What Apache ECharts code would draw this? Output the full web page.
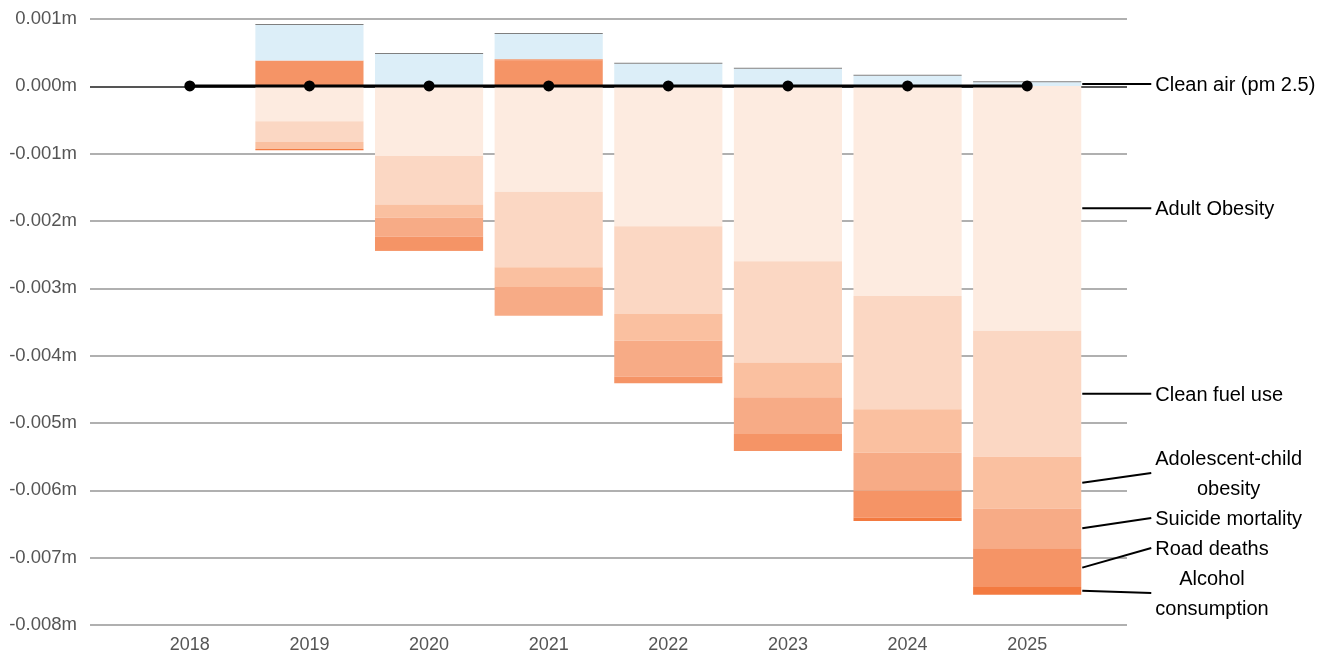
<!DOCTYPE html>
<html>
<head>
<meta charset="utf-8">
<script src="https://cdn.jsdelivr.net/npm/echarts@6/dist/echarts.min.js"></script>
<style>
  html, body { margin: 0; padding: 0; background: #fff; }
  #chart { width: 1318px; height: 654px; }
</style>
</head>
<body>
<div id="chart"></div>
<script>
// Years on the category axis
const years = ['2018', '2019', '2020', '2021', '2022', '2023', '2024', '2025'];

// Value axis (millions)
const yMin = -0.008;
const yMax = 0.001;
const yStep = 0.001;

// Contribution of each indicator, in millions ('-' = no bar)
const adultObesity = ['-', -0.000527, -0.001047, -0.001582, -0.0021, -0.00262, -0.00314, -0.00366];
const cleanFuelUse = ['-', -0.000312, -0.000728, -0.001128, -0.00131, -0.001515, -0.001693, -0.001886];
const adolescentChildObesity = ['-', -0.000104, -0.000193, -0.000298, -0.0004, -0.00052, -0.000653, -0.000772];
const suicideMortality = ['-', '-', -0.000282, -0.00043, -0.000535, -0.00055, -0.000565, -0.000594];
const roadDeaths = ['-', 0.00038, -0.000193, 0.00038, -0.0001, -0.000252, -0.0004, -0.00058];
const alcoholConsumption = ['-', -0.00002, -0.00002, 0.00002, '-', '-', -0.000055, -0.000114];
const cleanAir = ['-', 0.00053, 0.000478, 0.000375, 0.00033, 0.000255, 0.00015, 0.000055];
const otherIndicators = ['-', 0.000015, 0.000015, 0.000015, 0.000015, 0.000015, 0.000015, 0.000015];

// Net change line
const netChange = [0, 0, 0, 0, 0, 0, 0, 0];

// Series names and the text shown beside the last bar
const seriesNames = ['Adult Obesity', 'Clean fuel use', 'Adolescent-child obesity', 'Suicide mortality',
  'Road deaths', 'Alcohol consumption', 'Clean air (pm 2.5)', 'Other'];
const sideLabels = ['Adult Obesity', 'Clean fuel use', 'Adolescent-child\nobesity', 'Suicide mortality',
  'Road deaths', 'Alcohol\nconsumption', 'Clean air (pm 2.5)', null];
const seriesData = [adultObesity, cleanFuelUse, adolescentChildObesity, suicideMortality,
  roadDeaths, alcoholConsumption, cleanAir, otherIndicators];
const seriesColors = ['#fdebe0', '#fbd7c3', '#fac0a0', '#f7ab86', '#f59466', '#f37a40', '#dceef8', '#7f7f7f'];

const FONT = '"Liberation Sans", Arial, sans-serif';
const LABEL_SIZE = 20;
const LINE_H = 30;

const tickCount = Math.round((yMax - yMin) / yStep) + 1;
const zeroIndex = Math.round((0 - yMin) / yStep);
const splitColors = [];
for (let i = 0; i < tickCount; i++) splitColors.push(i === zeroIndex ? '#555555' : '#b0b0b0');

const barSeries = seriesNames.map((name, i) => ({
  name: name,
  type: 'bar',
  stack: 'total',
  xAxisIndex: 0,
  yAxisIndex: 0,
  barWidth: '90.4%',
  itemStyle: { color: seriesColors[i] },
  emphasis: { disabled: true },
  data: seriesData[i]
}));

const option = {
  animation: false,
  backgroundColor: '#ffffff',
  grid: [
    { left: 130, right: 231, top: 19, bottom: 29 },
    { left: 90, right: 191, top: 19, bottom: 29 }
  ],
  xAxis: [
    {
      type: 'category', gridIndex: 0, data: years,
      axisLine: { show: false }, axisTick: { show: false },
      axisLabel: { color: '#555', fontSize: 18, fontFamily: FONT, margin: 15 },
      splitLine: { show: false }
    },
    {
      type: 'category', gridIndex: 1, data: years, show: false
    }
  ],
  yAxis: [
    {
      type: 'value', gridIndex: 0, min: yMin, max: yMax, interval: yStep,
      axisLabel: { show: false }, axisLine: { show: false }, axisTick: { show: false },
      splitLine: { show: false }
    },
    {
      type: 'value', gridIndex: 1, min: yMin, max: yMax, interval: yStep,
      axisLine: { show: false }, axisTick: { show: false },
      axisLabel: {
        color: '#555', fontSize: 18.5, fontFamily: FONT, margin: 13,
        formatter: v => (Math.abs(v) < 1e-12 ? 0 : v).toFixed(3) + 'm'
      },
      splitLine: { show: true, lineStyle: { color: splitColors, width: 2 } }
    }
  ],
  series: barSeries.concat([
    {
      name: 'Net change',
      type: 'line',
      xAxisIndex: 0,
      yAxisIndex: 0,
      z: 5,
      symbol: 'circle',
      symbolSize: 11,
      lineStyle: { color: '#000', width: 3 },
      itemStyle: { color: '#000' },
      emphasis: { disabled: true },
      data: netChange
    }
  ])
};

const chart = echarts.init(document.getElementById('chart'), null, { renderer: 'canvas' });
chart.setOption(option);

// Side labels with leader lines, anchored to the segments of the last bar
(function addSideLabels() {
  const model = chart.getModel();
  const last = years.length - 1;
  const ctx = document.createElement('canvas').getContext('2d');
  ctx.font = LABEL_SIZE + 'px ' + FONT;
  const items = [];
  sideLabels.forEach((text, i) => {
    if (!text) return;
    const layout = model.getSeriesByIndex(i).getData().getItemLayout(last);
    if (!layout) return;
    const mid = layout.y + layout.height / 2;
    const right = layout.x + layout.width;
    const lines = text.split('\n');
    const width = Math.max.apply(null, lines.map(l => ctx.measureText(l).width));
    items.push({ text, lines, width, anchorY: mid, right, y: mid, h: lines.length * LINE_H });
  });
  items.sort((a, b) => a.anchorY - b.anchorY);
  // push overlapping labels down
  for (let i = 1; i < items.length; i++) {
    const minY = items[i - 1].y + items[i - 1].h / 2 + items[i].h / 2;
    if (items[i].y < minY) items[i].y = minY;
  }
  // keep them inside the plot bottom
  const limit = chart.convertToPixel({ yAxisIndex: 0 }, yMin) + 2;
  const n = items.length;
  if (n && items[n - 1].y + items[n - 1].h / 2 > limit) items[n - 1].y = limit - items[n - 1].h / 2;
  for (let i = n - 2; i >= 0; i--) {
    const maxY = items[i + 1].y - items[i + 1].h / 2 - items[i].h / 2;
    if (items[i].y > maxY) items[i].y = maxY;
  }
  const graphics = [];
  items.forEach(it => {
    const lineEnd = it.right + 70;
    const textLeft = it.right + 74;
    graphics.push({
      type: 'line', z: 10,
      shape: { x1: it.right + 1, y1: it.anchorY, x2: lineEnd, y2: it.y },
      style: { stroke: '#000', lineWidth: 2 }
    });
    const multi = it.lines.length > 1;
    graphics.push({
      type: 'text', z: 10,
      x: multi ? textLeft + it.width / 2 : textLeft,
      y: it.y + 1.5,
      style: {
        text: it.text,
        font: LABEL_SIZE + 'px ' + FONT,
        fill: '#000',
        align: multi ? 'center' : 'left',
        verticalAlign: 'middle',
        lineHeight: LINE_H
      }
    });
  });
  chart.setOption({ graphic: graphics });
})();
</script>
</body>
</html>
